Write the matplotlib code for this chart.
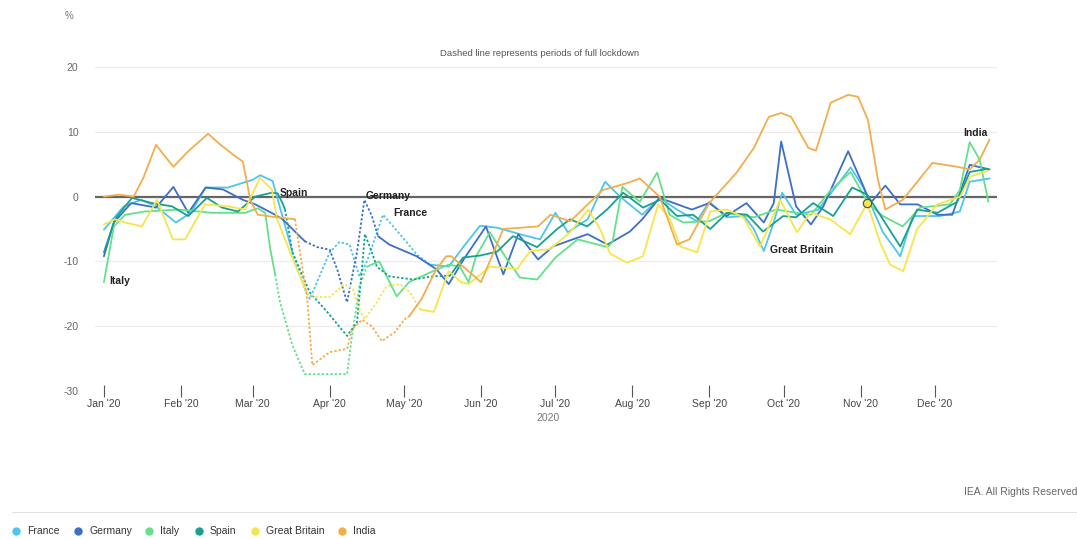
import numpy as np
import matplotlib.pyplot as plt
from matplotlib.lines import Line2D

plt.rcParams['font.family'] = ['Liberation Sans', 'DejaVu Sans']
plt.rcParams['axes.unicode_minus'] = False

# day of year 2020 (0 = 1 Jan) and % change
france_days = [0, 8, 15, 21, 29, 35, 41, 50, 60, 63, 68, 76,
               81, 83, 91, 95, 99, 103, 106, 112.5, 120, 126, 131.5,
               139, 145, 151.6, 158.5, 167.7, 175.8, 182, 187, 195, 202, 208, 217, 224, 231, 239,
               244, 251, 258, 262, 266, 270, 273.4, 279, 285, 288, 301, 306, 314, 321, 326, 337,
               345, 349, 357]
france_vals = [-5.1, -1.5, -0.5, -1.5, -4, -2.5, 1.4, 1.4, 2.6, 3.3, 2.4, -8.6,
               -14.3, -15.8, -8.6, -7, -7.4, -12.3, -10, -2.8, -6.1, -8.9, -10.5,
               -10.8, -7.7, -4.5, -4.8, -5.8, -6.6, -2.5, -5.5, -3.5, 2.3, 0, -2.8, -0.2, -2, -3.8,
               -0.8, -3.2, -3, -5, -8.4, -4, 0.6, -2.8, -2.3, -2, 4.5, 1.5, -5.5, -9.2, -3, -3,
               -2.3, 2.3, 2.8]
france_lock = (76, 131.5)

germany_days = [0, 4, 11, 21, 28, 34, 41, 48, 56, 61, 69, 72, 81,
                86, 91, 94, 98, 102, 105, 108, 110.5,
                115, 126, 134, 139, 145, 154, 161, 167, 175, 181, 189, 195, 203, 212, 217, 224,
                237, 244, 251, 259, 266, 270, 273, 279, 285, 290, 300, 305, 309, 315, 321, 328,
                336, 342, 349, 357]
germany_vals = [-9.2, -4, -1, -1.7, 1.5, -2.5, 1.4, 1.1, -0.5, -1.2, -2.8, -3.5, -6.9,
                -7.8, -8.2, -11.2, -16.3, -8.6, -0.5, -3, -6.1,
                -7.4, -9.2, -11.2, -13.5, -9.7, -4.6, -12, -5.8, -9.7, -7.7, -6.6, -5.8, -7.4, -5.4, -3.5, -0.2,
                -2, -1, -3, -1, -4, -1, 8.5, -1.5, -4.3, -1.5, 7, 2.6, -1, 1.7, -1.2, -1.2,
                -2.8, -2.8, 4.9, 4.2]
germany_lock = (81, 110.5)

italy_days = [0, 4, 8.5, 16.5, 30, 43.5, 57, 62, 65, 67, 69,
              71, 76, 81, 98, 100, 103, 106,
              111, 118, 123, 131.5, 139, 143.5, 147, 150, 155.6, 162.5, 167.7, 174.6, 182, 191, 199,
              203, 205, 209, 216, 223, 228, 233.5, 244, 251, 262, 271, 279, 285, 293, 301, 308,
              314, 322, 329, 341, 345, 349, 353, 356.5]
italy_vals = [-13.2, -4.6, -2.8, -2.3, -2, -2.5, -2.5, -1.8, -2.5, -8, -12,
              -16.3, -23, -27.4, -27.4, -21.5, -13.8, -10.8,
              -10, -15.4, -13.2, -11.7, -10.5, -10.8, -13.2, -9.2, -5.5, -9.7, -12.5, -12.8, -9.4, -6.6, -7.4,
              -7.8, -7, 1.5, -0.8, 3.7, -2.8, -4, -3.8, -2.5, -3.2, -2, -2.5, -2.8, 1, 3.8, -1,
              -3, -4.6, -1.7, -1.2, 1, 8.4, 5.7, -0.8]
italy_lock = (69, 106)

spain_days = [0, 4.4, 11.3, 19.4, 27.4, 34, 41.5, 47.6, 54, 61, 67.7, 70, 72, 73,
              76, 83, 90, 98, 102, 104, 105.2, 108, 110, 115, 124.6, 132.7, 139.5,
              144.8, 151.6, 158.5, 164.9, 174.6, 182.7, 187.9, 194.8, 202.8, 209.3, 217.3, 224.2,
              231, 237.5, 244.4, 251.2, 259.3, 265.7, 273.8, 279, 285.9, 294, 301.6, 307.7, 314,
              321, 327.8, 336, 344, 349, 356.5]
spain_vals = [-8.6, -3.5, -0.2, -1, -1.5, -3, -0.2, -1.7, -2.3, 0, 0.6, 0.5, -1, -2,
              -8.6, -14.8, -17.8, -21.5, -19.4, -11.2, -5.8, -8.6, -10.8, -12.3, -12.8, -12.3, -12.2,
              -9.4, -9.1, -8.5, -6.1, -7.8, -5, -3.5, -4.6, -2, 0.6, -1.7, -0.5,
              -3, -2.8, -5, -2.5, -2.8, -5.4, -3, -3.2, -1, -3, 1.4, 0.3, -3.5,
              -7.7, -2, -2.5, -0.8, 3.8, 4.3]
spain_lock = (73, 139.5)

gb_days = [0, 4.4, 8.5, 15.3, 21.4, 27.8, 32.7, 40.7, 50, 56.9, 62.9, 67.7, 69.8, 77.8, 82,
           86, 91, 97, 100.4, 103.2, 105.2, 110, 114, 119.4, 123.4, 127.4,
           133, 139, 144, 147, 155.6, 166.5, 171.8, 179.8, 187.9, 195.2, 200, 204, 210.9, 217.3,
           223.4, 228.2, 232.3, 239.1, 244.4, 251.2, 257.7, 264.5, 272.6, 279.4, 284.7, 292.7,
           300.8, 307.7, 312.9, 316.9, 322.2, 327.8, 335.9, 345.2, 349.2, 356.5]
gb_vals = [-4.3, -3.5, -4, -4.6, -0.5, -6.6, -6.6, -1.2, -1.5, -2, 2.9, 1.1, -3.5, -11.2, -15,
           -15.5, -15.5, -13.5, -14.3, -17.8, -18.9, -16.3, -13.8, -13.5, -14.8, -17.4,
           -17.8, -11.5, -13.2, -13.5, -10.8, -11.2, -8.4, -8.1, -5.5, -2, -5, -8.8, -10.2, -9.2,
           -1.2, -3.5, -7.7, -8.6, -2.3, -2, -3.2, -7.7, -0.5, -5.5, -2.5, -3.5,
           -5.8, -1, -7.1, -10.5, -11.5, -5, -1.2, 0, 3.1, 4]
gb_lock = (82, 127.4)

india_days = [0, 6, 12, 16, 21, 24, 28, 34, 42, 47, 52, 56, 59, 62, 70, 77,
              82, 84, 91, 98, 100, 104, 108, 112, 117, 122, 123,
              128, 134, 138, 140, 152, 161, 175, 180, 188, 201, 211, 216, 224, 231, 236,
              244, 255, 262, 268, 273, 277, 284, 287, 293, 300, 304, 308, 312, 315, 322,
              334, 344, 349, 353, 357]
india_vals = [0, 0.3, 0, 3, 8, 6.5, 4.6, 7, 9.7, 8, 6.5, 5.4, -0.5, -2.8, -3.2, -3.5,
              -16, -26, -24, -23.5, -20.5, -19, -20, -22.3, -21, -18.6, -18.5,
              -15.8, -11.2, -9.2, -9.2, -13.2, -5, -4.6, -2.8, -3.8, 1, 2.1, 2.8, 0, -7.4, -6.6,
              -1, 3.7, 7.5, 12.3, 12.9, 12.3, 7.5, 7.1, 14.5, 15.7, 15.4, 11.8, 2.6, -2, -0.5,
              5.2, 4.6, 4.2, 5.7, 8.8]
india_lock = (77, 123)

names = ['France', 'Germany', 'Italy', 'Spain', 'Great Britain', 'India']
colors = ['#4fc4ec', '#3d6fc8', '#64e08a', '#17a18f', '#f7e54c', '#f2ae4c']
all_days = [france_days, germany_days, italy_days, spain_days, gb_days, india_days]
all_vals = [france_vals, germany_vals, italy_vals, spain_vals, gb_vals, india_vals]
all_lock = [france_lock, germany_lock, italy_lock, spain_lock, gb_lock, india_lock]

month_days = [0, 31, 60, 91, 121, 152, 182, 213, 244, 274, 305, 335]
month_labels = ["Jan '20", "Feb '20", "Mar '20", "Apr '20", "May '20", "Jun '20",
                "Jul '20", "Aug '20", "Sep '20", "Oct '20", "Nov '20", "Dec '20"]

fig = plt.figure(figsize=(10.77, 5.39), dpi=100)
ax = fig.add_axes([95 / 1077, 1 - 391 / 539, 902 / 1077, 324 / 539])

for d, v, (s, e), c in zip(all_days, all_vals, all_lock, colors):
    d = np.array(d, dtype=float)
    v = np.array(v, dtype=float)
    pre = d <= s
    lock = (d >= s) & (d <= e)
    post = d >= e
    ax.plot(d[pre], v[pre], color=c, lw=1.3, solid_joinstyle='round', solid_capstyle='round')
    ax.plot(d[lock], v[lock], color=c, lw=1.3, linestyle=(0, (1.3, 1.1)))
    ax.plot(d[post], v[post], color=c, lw=1.3, solid_joinstyle='round', solid_capstyle='round')

# hover marker on Great Britain
i = gb_days.index(307.7)
ax.plot(gb_days[i], gb_vals[i], 'o', ms=6, mfc='#f7e54c', mec='#555555', mew=0.9)

ax.axhline(0, color='#666666', lw=1.6, zorder=1)
ax.set_xlim(-3.6, 360)
ax.set_ylim(-30, 20)
ax.set_yticks([-30, -20, -10, 0, 10, 20])
ax.grid(axis='y', color='#ececec', lw=0.8)
ax.set_axisbelow(True)
for sp in ax.spines.values():
    sp.set_visible(False)
ax.tick_params(axis='y', length=0, pad=12, labelsize=7.5, labelcolor='#666666')
ax.set_xticks(month_days)
ax.set_xticklabels(month_labels)
ax.tick_params(axis='x', direction='inout', length=8, width=0.8, color='#555555',
               labelsize=7.5, labelcolor='#444444', pad=2)

labels = [('Italy', 2, -13.1), ('Spain', 71, 0.6), ('Germany', 105.6, 0.15),
          ('France', 116.5, -2.5), ('Great Britain', 268.5, -8.2), ('India', 346.4, 9.8)]
for t, x, y in labels:
    ax.text(x, y, t, fontsize=7.5, fontweight='bold', color='#222222', va='center', ha='left')

fig.text(65 / 1077, 1 - 16 / 539, '%', fontsize=7, color='#777777', va='center')
fig.text(540 / 1077, 1 - 53 / 539, 'Dashed line represents periods of full lockdown',
         fontsize=6.8, color='#555555', ha='center', va='center')
fig.text(548 / 1077, 1 - 418 / 539, '2020', fontsize=7.5, color='#777777', ha='center', va='center')
fig.text(1, 1 - 492 / 539, 'IEA. All Rights Reserved', fontsize=7.5, color='#666666',
         ha='right', va='center')
fig.add_artist(Line2D([12 / 1077, 1], [1 - 512 / 539] * 2, color='#e2e2e2', lw=0.8,
                      transform=fig.transFigure))

dot_x = [16, 78, 149, 199, 255, 342]
for n, c, x in zip(names, colors, dot_x):
    fig.add_artist(Line2D([x / 1077], [1 - 531 / 539], marker='o', ms=5, color=c,
                          transform=fig.transFigure))
    fig.text((x + 11) / 1077, 1 - 531 / 539, n, fontsize=7.5, color='#333333', va='center')

fig.savefig('out.png', dpi=100)
